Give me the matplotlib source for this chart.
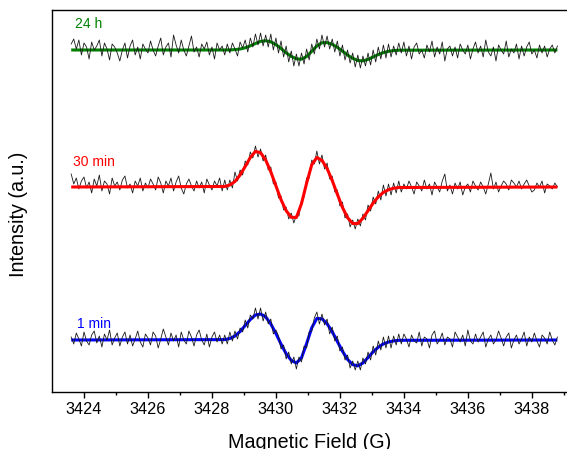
import numpy as np
import matplotlib.pyplot as plt

plt.rcParams['font.family'] = ['Liberation Sans', 'DejaVu Sans']

# field axis of the recorded spectra (G)
field = np.linspace(3423.6, 3438.8, 191)
# field points of the simulated fits across the resonance (G)
fit_field = np.linspace(3428.4, 3433.84, 35)
sweep = (3423.6, 3438.8)

labels = ['1 min', '30 min', '24 h']
colors = ['#0000ff', '#ff0000', '#008000']
offsets = [0, 153, 290]

spec_1min = [
    3, -4, 7, 1, -6, 8, -1, -5, 5, 9, -3, 4, -7, 6, 0, 10, -5, 2, 7, -6,
    3, 8, -4, 5, -6, 1, 9, -2, -7, 6, 2, -5, 8, 4, -8, 1, 11, 3, -5, 7,
    -1, 5, -7, 8, 0, -4, 9, 3, -6, 5, 10, 0, -5, 6, -7, 3, 8, -2, 5, -4,
    5, -4, 8, -1, 9, 1, 12, 8, 20, 12, 25, 21, 32, 21, 32, 19, 28, 16, 21, 6,
    10, 4, -9, -5, -19, -12, -24, -17, -29, -17, -22, -6, -8, 8, 9, 22, 28, 16, 26, 15,
    21, 6, 13, -1, 4, -11, -7, -20, -15, -28, -21, -30, -21, -30, -18, -24, -12, -20, -6, -15,
    -1, -10, 3, -8, 4, -8, 4, -5, 6,
    -4, 6, 1, -7, 5, -1, -3, 8, -6, 3, 1, -8, 5, 9, -4, 0, 7, -5, 3, 1,
    -7, 8, 3, -2, 5, -6, 10, -1, -4, 6, -2, 3, 8, -7, 1, 5, -4, 0, 9, 2,
    -6, 3, 7, -8, 0, 5, -4, 1, 8, -6, 3, -2, 7, -1, -7, 5, 2, -4, 8, 0,
    -5, 3,
]
spec_30min = [
    13, 3, 9, -2, 6, 10, -1, 5, -6, 8, 1, 12, -4, 6, 3, -7, 9, 1, 5, -3,
    7, 11, -1, 3, -6, 6, 1, 9, -4, 4, -1, 8, 3, -3, 10, 4, -6, 6, 1, 9,
    -4, 5, 11, -1, -7, 3, 8, 1, -4, 6, -1, 5, -6, 8, 2, -3, 6, 1, 9, -4,
    7, -3, 7, -1, 15, 6, 17, 12, 26, 22, 35, 29, 41, 30, 38, 26, 32, 17, 20, 3,
    5, -11, -9, -23, -20, -32, -26, -36, -28, -29, -13, -10, 9, 9, 27, 23, 36, 23, 32, 18,
    24, 8, 11, -5, -3, -19, -15, -31, -27, -40, -33, -42, -32, -39, -27, -33, -18, -24, -10, -17,
    -4, -13, 2, -9, 3, -8, 4, -6, 6,
    -5, 3, -2, 6, 0, -7, 5, 1, -4, 7, -2, 3, -8, 5, 0, -5, 6, 13, -4, 2,
    -7, 4, -2, 5, -8, 0, 3, -5, 6, 1, -3, 5, 0, -7, 3, 14, -2, 5, -5, 1,
    6, 3, -3, 7, 4, 0, 6, -2, 3, 7, 1, -5, -3, 4, 0, 6, -6, 3, 1, -2,
    4, 0,
]
spec_24h = [
    6, 11, 1, 10, -5, 7, 3, -9, 8, 0, 4, 10, -6, 7, 1, -10, 6, 3, -3, -11,
    0, 7, -8, 4, 10, -5, 3, -9, 6, 1, -3, 9, 0, -6, 4, 12, -5, 3, 7, -7,
    15, 5, -3, 10, 0, -6, 4, 14, -2, 3, -7, 6, 1, 8, -5, 3, -9, 7, 0, 4,
    -5, 6, -3, 7, 1, -6, 8, 2, 10, -2, 12, 3, 16, 5, 17, 4, 15, 3, 16, 0,
    12, -3, 9, -7, 4, -12, -1, -16, -4, -16, -3, -14, 1, -10, 6, -4, 11, 1, 15, 3,
    14, 1, 11, -2, 9, -6, 5, -10, 0, -13, -3, -17, -5, -18, -6, -16, -3, -15, 0, -12,
    3, -9, 5, -8, 6, -7, 4, -5, 7,
    -3, 8, -6, 4, -9, 3, 7, -4, 0, -8, 5, -2, 9, -7, 3, -4, 8, -11, 1, 4,
    -6, 3, -8, 6, 0, -4, 5, -9, 1, 8, -3, 4, -7, 10, -2, -6, 3, -11, 5, 0,
    -4, 9, -7, 1, -3, 6, -9, 4, -6, 3, 8, -4, 0, -8, 5, -3, 4, -7, 1, 5,
    -3, 4,
]

fit_1min = [0.4, 1.5, 4.0, 8.5, 14.5, 20.5, 25.0, 26.0, 23.1, 16.1, 6.5, -4.1,
            -13.7, -20.4, -23.0, -17.8, -3.6, 12.2, 21.6, 21.2, 16.2, 8.3, -1.4,
            -11.2, -19.4, -24.6, -25.9, -23.0, -17.5, -11.8, -7.2, -3.9, -2.0,
            -0.9, -0.3]
fit_30min = [0.5, 2.0, 5.5, 12.0, 20.5, 29.5, 35.6, 34.3, 27.0, 15.2, 1.2, -12.7,
             -23.7, -30.3, -30.5, -16.6, 3.9, 22.2, 29.5, 26.6, 18.5, 6.5, -7.2,
             -20.4, -30.7, -36.5, -36.6, -31.2, -23.7, -16.1, -9.8, -5.4, -2.7,
             -1.2, -0.5]
fit_24h = [0.0, 0.1, 0.4, 1.0, 2.2, 4.2, 6.5, 8.6, 9.3, 8.2, 5.4, 1.5, -2.8,
           -6.4, -8.8, -9.2, -6.5, -1.3, 4.1, 7.3, 7.4, 5.7, 2.7, -1.1, -5.1,
           -8.3, -10.5, -10.9, -9.4, -7.0, -4.5, -2.6, -1.3, -0.6, -0.2]

spectra = [spec_1min, spec_30min, spec_24h]
fits = [fit_1min, fit_30min, fit_24h]
label_pos = [(3423.78, 16.5), (3423.67, 178), (3423.73, 316.5)]
# the red fit sits over its spectrum, the others under theirs
fit_z = [2, 4, 2]

fig = plt.figure(figsize=(5.67, 4.49), dpi=100)
ax = fig.add_axes([52 / 567, 57 / 449, 515 / 567, 382 / 449])

fx = np.r_[sweep[0], fit_field, sweep[1]]
for spec, fit, off, c, lab, (tx, ty), z in zip(spectra, fits, offsets, colors,
                                                labels, label_pos, fit_z):
    ax.plot(field, off + np.asarray(spec, float), color='#1a1a1a', lw=0.6, zorder=3)
    ax.plot(fx, off + np.r_[0, fit, 0], color=c, lw=2.2, zorder=z,
            solid_capstyle='butt')
    ax.text(tx, ty, lab, color=c, fontsize=10, va='center', ha='left')

ax.set_xlim(3423.0, 3439.1)
ax.set_ylim(-52, 330)
ax.set_xticks(np.arange(3424, 3439, 2))
ax.set_xticks(np.arange(3425, 3440, 2), minor=True)
ax.set_yticks([])
ax.tick_params(axis='x', which='major', direction='out', length=4.3, width=1,
               labelsize=11.7, pad=3)
ax.tick_params(axis='x', which='minor', direction='out', length=2.2, width=1)
ax.spines['right'].set_visible(False)
for s in ('left', 'top', 'bottom'):
    ax.spines[s].set_linewidth(1.0)

ax.set_xlabel('Magnetic Field (G)', fontsize=14.2, va='baseline')
ax.xaxis.set_label_coords(0.5, -0.147)
ax.set_ylabel('Intensity (a.u.)', fontsize=14.2)
ax.yaxis.set_label_coords(-0.046, 0.466)

fig.savefig('out.png', dpi=100)
